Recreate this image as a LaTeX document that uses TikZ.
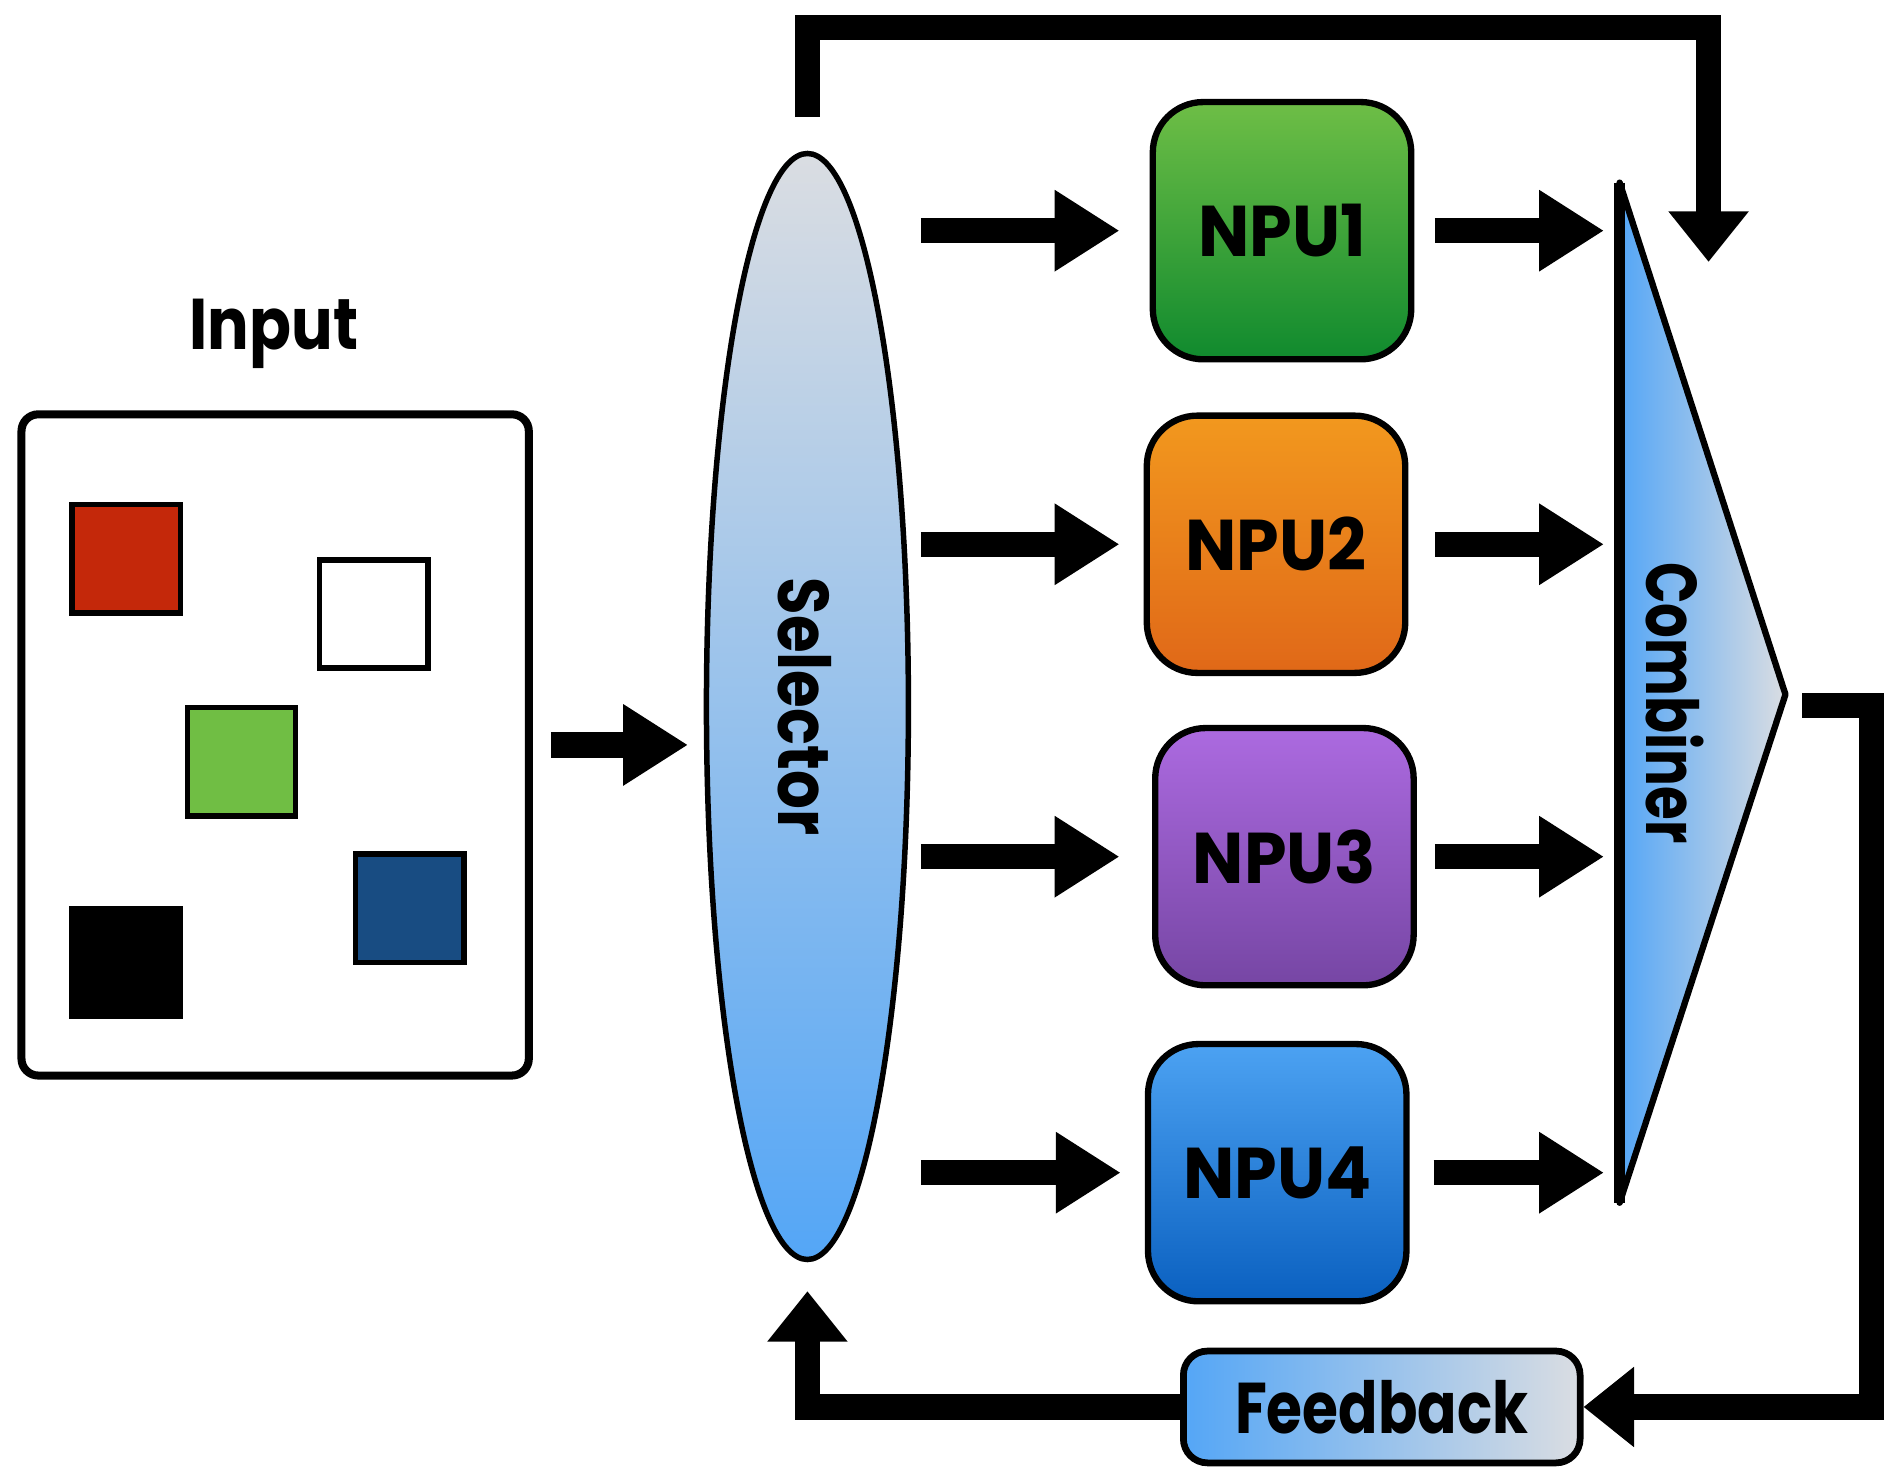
\documentclass[tikz,border=0pt]{standalone}
\usepackage{fontspec}
\setmainfont{Poppins}
\usetikzlibrary{shapes.geometric,arrows.meta,calc}
\definecolor{selTop}{RGB}{218,221,226}
\definecolor{selBot}{RGB}{84,166,246}
\definecolor{gTop}{RGB}{110,190,70}
\definecolor{gBot}{RGB}{16,138,46}
\definecolor{oTop}{RGB}{242,152,30}
\definecolor{oBot}{RGB}{224,104,24}
\definecolor{pTop}{RGB}{172,106,224}
\definecolor{pBot}{RGB}{118,70,164}
\definecolor{bTop}{RGB}{76,162,242}
\definecolor{bBot}{RGB}{10,96,192}
\definecolor{sqRed}{RGB}{196,40,10}
\definecolor{sqGreen}{RGB}{112,190,68}
\definecolor{sqBlue}{RGB}{24,76,130}
\newcommand{\lblfont}[1]{\fontsize{17}{17}\selectfont\bfseries\addfontfeature{FakeStretch=#1}}
\tikzset{
  conn/.style={line width=6pt, draw=black, line join=miter},
  bigarrow/.style={conn, -{Triangle[length=0.54cm,width=0.64cm]}},
  looparrow/.style={conn, -{Triangle[length=0.42cm,width=0.64cm]}},
  npubox/.style={draw=black, line width=1.5pt, rounded corners=0.42cm, minimum width=2.15cm, minimum height=2.14cm, inner sep=0pt, font=\lblfont{0.95}},
  sq/.style={draw=black, line width=1.3pt, minimum size=0.9cm, inner sep=0pt},
  lbl/.style={inner sep=0pt},
}
\begin{document}
\begin{tikzpicture}[x=0.01cm, y=-0.01cm]
\useasboundingbox (0,0) rectangle (1568,1222);
% input
\node[lbl, font=\lblfont{0.86}] (inlabel) at (228,278) {Input};
\node[draw=black, line width=1.9pt, rounded corners=0.14cm, minimum width=4.22cm, minimum height=5.5cm, inner sep=0pt] (inbox) at (229,620) {};
\node[sq, fill=sqRed] (sqa) at (105,465) {};
\node[sq, fill=white] (sqb) at (311,511) {};
\node[sq, fill=sqGreen] (sqc) at (201,634) {};
\node[sq, fill=black] (sqd) at (105,801) {};
\node[sq, fill=sqBlue] (sqe) at (341,756) {};
% selector
\node[ellipse, draw=black, line width=1.3pt, minimum width=1.68cm, minimum height=9.2cm, inner sep=0pt, top color=selTop, bottom color=selBot] (sel) at (672,588) {};
\node[lbl, rotate=-90, font=\lblfont{0.85}] (sellbl) at (670,588) {Selector};
% NPUs
\node[npubox, top color=gTop, bottom color=gBot] (npu1) at (1067,192) {NPU1};
\node[npubox, top color=oTop, bottom color=oBot] (npu2) at (1062,453) {NPU2};
\node[npubox, top color=pTop, bottom color=pBot] (npu3) at (1069,713) {NPU3};
\node[npubox, top color=bTop, bottom color=bBot] (npu4) at (1063,976) {NPU4};
% combiner
\coordinate (ct) at (1348,152);
\coordinate (cb) at (1348,1001);
\coordinate (ca) at (1486,578);
\coordinate (cw) at (1348,578);
\path[draw=black, line width=1.5pt, line join=round, left color=selBot, right color=selTop] (ct) -- (ca) -- (cb) -- cycle;
\draw[line width=2.5pt] (ct) -- (cb);
\node[lbl, rotate=-90, font=\lblfont{0.76}] (comb) at (1394,585) {Combiner};
% feedback
\node[draw=black, line width=1.6pt, rounded corners=0.2cm, minimum width=3.3cm, minimum height=0.93cm, inner sep=0pt, left color=selBot, right color=selTop, font=\lblfont{0.81}] (fb) at (1150,1171) {Feedback};
% arrows
\draw[bigarrow, shorten <=0.15cm, shorten >=0.13cm] (inbox.east) -- (inbox.east -| sel.west);
\foreach \n/\s in {npu1/0.25cm, npu2/0.2cm, npu3/0.27cm, npu4/0.2cm}{
  \draw[bigarrow, shorten <=0.08cm, shorten >=\s] (sel.east |- \n.west) -- (\n.west);
}
\foreach \n/\s in {npu1/0.17cm, npu2/0.22cm, npu3/0.15cm, npu4/0.2cm}{
  \draw[bigarrow, shorten <=\s, shorten >=0.13cm] (\n.east) -- (\n.east -| cw);
}
% loops
\coordinate (tr) at (1422,23);
\coordinate (tip1) at (1422,218);
\draw[looparrow] ([yshift=0.28cm]sel.north) |- (tr) -- (tip1);
\coordinate (bs) at (1500,587);
\coordinate (br) at (1558,587);
\draw[looparrow] (bs) -- (br) |- (fb.east);
\draw[looparrow] (fb.west) -| ([yshift=-0.24cm]sel.south);
\end{tikzpicture}
\end{document}
